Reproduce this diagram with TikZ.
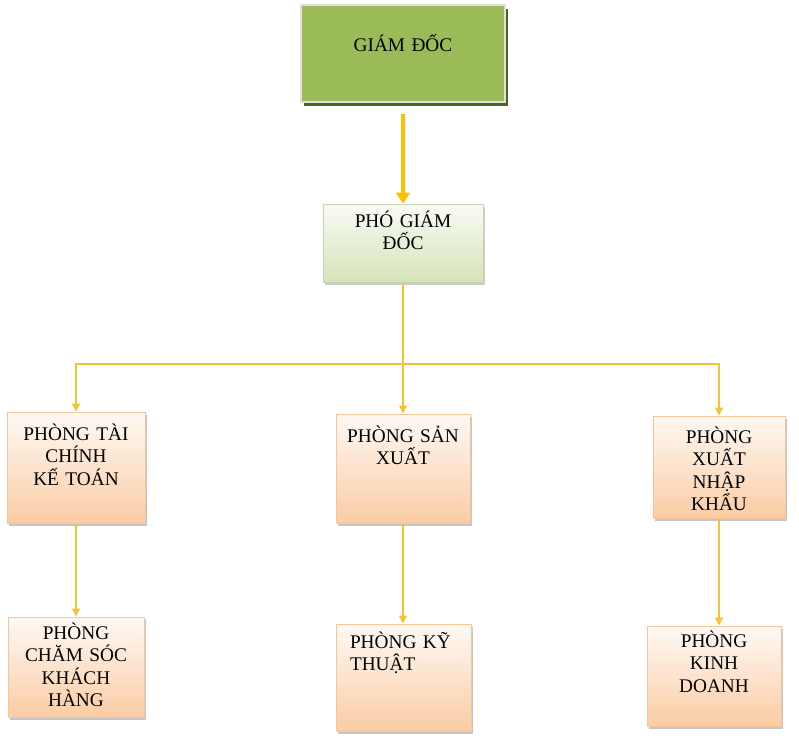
\documentclass[tikz,border=0pt]{standalone}
\usepackage{fontspec}
\setmainfont{Liberation Serif}
\usetikzlibrary{arrows.meta,positioning,shadows}
\definecolor{gdgreen}{HTML}{9BBB59}
\definecolor{gdshadow}{HTML}{4F6228}
\definecolor{lineyel}{HTML}{F5C231}
\definecolor{arrowyel}{HTML}{FFC000}
\definecolor{peach}{HTML}{FBCCA5}
\definecolor{peachline}{HTML}{F8C49A}
\definecolor{palegreen}{HTML}{D5E3B9}

\begin{document}
\begin{tikzpicture}[x=1pt, y=-1pt, font=\fontsize{19.3}{22.5}\selectfont,
   box/.style={rectangle, inner ysep=0pt, inner xsep=4pt, align=center},
   dept/.style={box, draw=peachline, line width=1pt, top color=peach!12, bottom color=peach,
      drop shadow={shadow xshift=2pt, shadow yshift=-3pt, opacity=0.45, fill=gray}},
   conn/.style={draw=lineyel, line width=1.4pt, -{Triangle[width=8pt, length=8pt]}}]
\useasboundingbox (0,0) rectangle (799,741);
% ban giam doc
\node[box, fill=gdgreen, draw=black!12, line width=1.5pt,
   minimum width=204pt, text width=196pt, text height=47pt, text depth=50pt,
   drop shadow={shadow xshift=3pt, shadow yshift=-4pt, opacity=1, fill=gdshadow}]
   (gd) at (403,53.5) {GIÁM ĐỐC};
\node[box, draw=palegreen!85!gray, line width=1pt, top color=palegreen!15, bottom color=palegreen,
   minimum width=160pt, text width=152pt, text height=23pt, text depth=55pt,
   drop shadow={shadow xshift=2pt, shadow yshift=-3pt, opacity=0.4, fill=gray}]
   (pgd) at (403,243) {PHÓ GIÁM\\ĐỐC};
% cac phong
\node[dept, minimum width=138pt, text width=130pt, text height=28pt, text depth=83pt]
   (ptc) at (76,467.5) {PHÒNG TÀI\\CHÍNH\\KẾ TOÁN};
\node[dept, minimum width=134pt, text width=126pt, text height=28pt, text depth=81pt]
   (psx) at (403,468.5) {PHÒNG SẢN\\XUẤT};
\node[dept, minimum width=132pt, text width=124pt, text height=27pt, text depth=75pt]
   (pxnk) at (719,467) {PHÒNG\\XUẤT\\NHẬP\\KHẨU};
\node[dept, minimum width=136pt, text width=128pt, text height=22pt, text depth=78pt]
   (pcs) at (76,667) {PHÒNG\\CHĂM SÓC\\KHÁCH\\HÀNG};
\node[dept, align=left, inner xsep=14pt, minimum width=135pt, text width=107pt, text height=24pt, text depth=83pt]
   (pkt) at (403.5,677.5) {PHÒNG KỸ\\THUẬT};
\node[dept, minimum width=134pt, text width=126pt, text height=21pt, text depth=79pt]
   (pkd) at (714,676) {PHÒNG\\KINH\\DOANH};
% duong noi
\coordinate (jn) at (403,364);
\draw[draw=arrowyel, line width=4.5pt, shorten <=11pt, -{Triangle[width=14pt, length=11pt]}] (gd.south) -- (pgd.north);
\draw[draw=lineyel, line width=1.4pt] (pgd.south) -- (jn);
\draw[conn] (jn) -- (psx.north);
\draw[conn] (jn) -| (ptc.north);
\draw[conn] (jn) -| (pxnk.north);
\draw[conn] (ptc.south) -- (pcs.north -| ptc.south);
\draw[conn] (psx.south) -- (pkt.north -| psx.south);
\draw[conn] (pxnk.south) -- (pkd.north -| pxnk.south);
\end{tikzpicture}
\end{document}
